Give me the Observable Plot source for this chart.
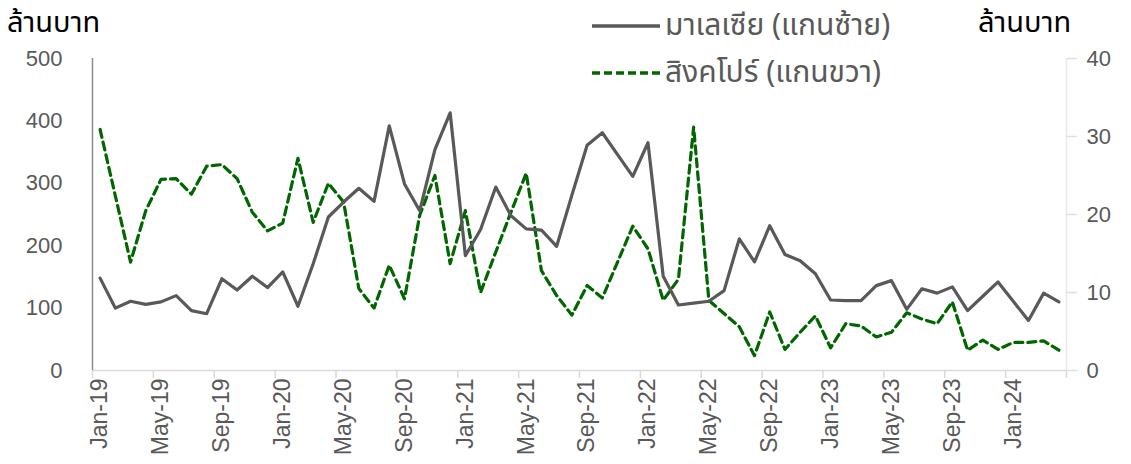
<!DOCTYPE html>
<html>
<head>
<meta charset="utf-8">
<script src="https://cdn.jsdelivr.net/npm/d3@7"></script>
<script src="https://cdn.jsdelivr.net/npm/@observablehq/plot@0.6"></script>
<style>
  html, body { margin: 0; padding: 0; background: #fff; }
  #wrap { position: relative; width: 1131px; height: 464px; overflow: hidden; }
  .ttl { position: absolute; font-family: "Noto Sans Thai", Tahoma, "Liberation Sans", sans-serif; font-size: 29px; line-height: 1; color: #000; white-space: nowrap; }
  #legend { position: absolute; left: 590px; top: 2px; font-family: "Noto Sans Thai", Tahoma, "Liberation Sans", sans-serif; font-size: 30px; line-height: 1; color: #595959; }
  .li { display: flex; align-items: center; height: 47px; white-space: nowrap; }
  .li svg { margin-right: 5px; }
</style>
</head>
<body>
<div id="wrap">
  <div id="chart"></div>
  <div class="ttl" style="left:7px; top:9px;">ล้านบาท</div>
  <div class="ttl" style="left:978px; top:9px;">ล้านบาท</div>
  <div id="legend"></div>
</div>
<script>
const months = [
  "Jan-19","Feb-19","Mar-19","Apr-19","May-19","Jun-19","Jul-19","Aug-19","Sep-19","Oct-19","Nov-19","Dec-19",
  "Jan-20","Feb-20","Mar-20","Apr-20","May-20","Jun-20","Jul-20","Aug-20","Sep-20","Oct-20","Nov-20","Dec-20",
  "Jan-21","Feb-21","Mar-21","Apr-21","May-21","Jun-21","Jul-21","Aug-21","Sep-21","Oct-21","Nov-21","Dec-21",
  "Jan-22","Feb-22","Mar-22","Apr-22","May-22","Jun-22","Jul-22","Aug-22","Sep-22","Oct-22","Nov-22","Dec-22",
  "Jan-23","Feb-23","Mar-23","Apr-23","May-23","Jun-23","Jul-23","Aug-23","Sep-23","Oct-23","Nov-23","Dec-23",
  "Jan-24","Feb-24","Mar-24","Apr-24"
];
const malaysia = [
  148,100,111,106,110,120,96,91,147,129,
  151,133,158,103,171,246,270,292,271,392,
  299,256,354,413,184,226,294,248,227,225,
  199,281,361,381,346,311,365,151,105,108,
  111,128,211,174,232,186,176,155,113,112,
  112,136,144,98,131,124,134,96,119,142,
  111,80,124,110
];
const singapore = [
  30.9,22.4,13.9,20.5,24.5,24.6,22.6,26.2,26.4,24.6,
  20.3,17.9,18.9,27.2,19.0,24.0,21.6,10.5,8.0,13.5,
  9.2,19.9,25.0,13.7,20.5,10.0,15.2,20.3,25.3,12.8,
  9.6,7.1,10.9,9.3,13.9,18.5,15.6,9.0,11.7,31.2,
  9.0,7.3,5.6,1.9,7.5,2.7,4.9,7.0,2.9,6.0,
  5.7,4.3,4.9,7.4,6.6,6.0,8.8,2.6,3.9,2.7,
  3.6,3.6,3.8,2.6
];
const tickLabels = ["Jan-19","May-19","Sep-19","Jan-20","May-20","Sep-20","Jan-21","May-21","Sep-21","Jan-22","May-22","Sep-22","Jan-23","May-23","Sep-23","Jan-24"];
const leftTicks = [0,100,200,300,400,500];
const rightTicks = [0,10,20,30,40];
const seriesNames = ["มาเลเซีย (แกนซ้าย)", "สิงคโปร์ (แกนขวา)"];

const leftMax = 500, rightMax = 40, k = leftMax / rightMax;
const n = months.length;
const rowsM = months.map((m, i) => ({pos: i + 0.5, v: malaysia[i]}));
const rowsS = months.map((m, i) => ({pos: i + 0.5, v: singapore[i] * k}));
const labelPos = tickLabels.map(t => months.indexOf(t) + 0.5);
const boundaryPos = d3.range(0, n + 1, 4);

const GREY = "#595959", GREEN = "#006600";

const chart = Plot.plot({
  width: 1131,
  height: 464,
  marginLeft: 92,
  marginRight: 65,
  marginTop: 58,
  marginBottom: 94,
  style: {fontFamily: "'Liberation Sans', Arial, sans-serif", background: "#fff"},
  x: {type: "linear", domain: [0, n]},
  y: {domain: [0, leftMax]},
  marks: [
    Plot.ruleY([0], {stroke: "#d9d9d9", strokeWidth: 1.5}),
    Plot.ruleX([n], {stroke: "#e8e8e8", strokeWidth: 1.5}),
    Plot.ruleX([0], {stroke: "#8c8c8c", strokeWidth: 1.5}),
    Plot.axisX({ticks: boundaryPos, tickFormat: () => "", tickSize: 8, stroke: "#d9d9d9", strokeWidth: 1.5, label: null}),
    Plot.axisX({ticks: labelPos, tickFormat: d => months[Math.round(d - 0.5)], tickSize: 0, tickPadding: 8, tickRotate: -90, fontSize: 23, fill: GREY, label: null}),
    Plot.axisY({anchor: "left", ticks: leftTicks, tickSize: 0, tickPadding: 30, fontSize: 22, fill: GREY, label: null}),
    Plot.axisY({anchor: "right", ticks: rightTicks.map(t => t * k), tickFormat: d => String(Math.round(d / k)), tickSize: 10, tickPadding: 10, stroke: "#e0e0e0", strokeWidth: 1.5, fontSize: 22, fill: GREY, textAnchor: "start", label: null}),
    Plot.line(rowsS, {x: "pos", y: "v", stroke: GREEN, strokeWidth: 3.2, strokeDasharray: "8,5", strokeLinejoin: "round"}),
    Plot.line(rowsM, {x: "pos", y: "v", stroke: GREY, strokeWidth: 3.2, strokeLinejoin: "round"})
  ]
});
document.getElementById("chart").appendChild(chart);

const legend = document.getElementById("legend");
const styles = [{stroke: GREY, dash: null}, {stroke: GREEN, dash: "8,4"}];
seriesNames.forEach((name, i) => {
  const row = document.createElement("div");
  row.className = "li";
  const ns = "http://www.w3.org/2000/svg";
  const s = document.createElementNS(ns, "svg");
  s.setAttribute("width", "70"); s.setAttribute("height", "10");
  const ln = document.createElementNS(ns, "line");
  ln.setAttribute("x1", "2"); ln.setAttribute("x2", "70");
  ln.setAttribute("y1", "5"); ln.setAttribute("y2", "5");
  ln.setAttribute("stroke", styles[i].stroke);
  ln.setAttribute("stroke-width", "3.5");
  if (styles[i].dash) ln.setAttribute("stroke-dasharray", styles[i].dash);
  s.appendChild(ln);
  row.appendChild(s);
  const t = document.createElement("span");
  t.textContent = name;
  row.appendChild(t);
  legend.appendChild(row);
});
</script>
</body>
</html>
